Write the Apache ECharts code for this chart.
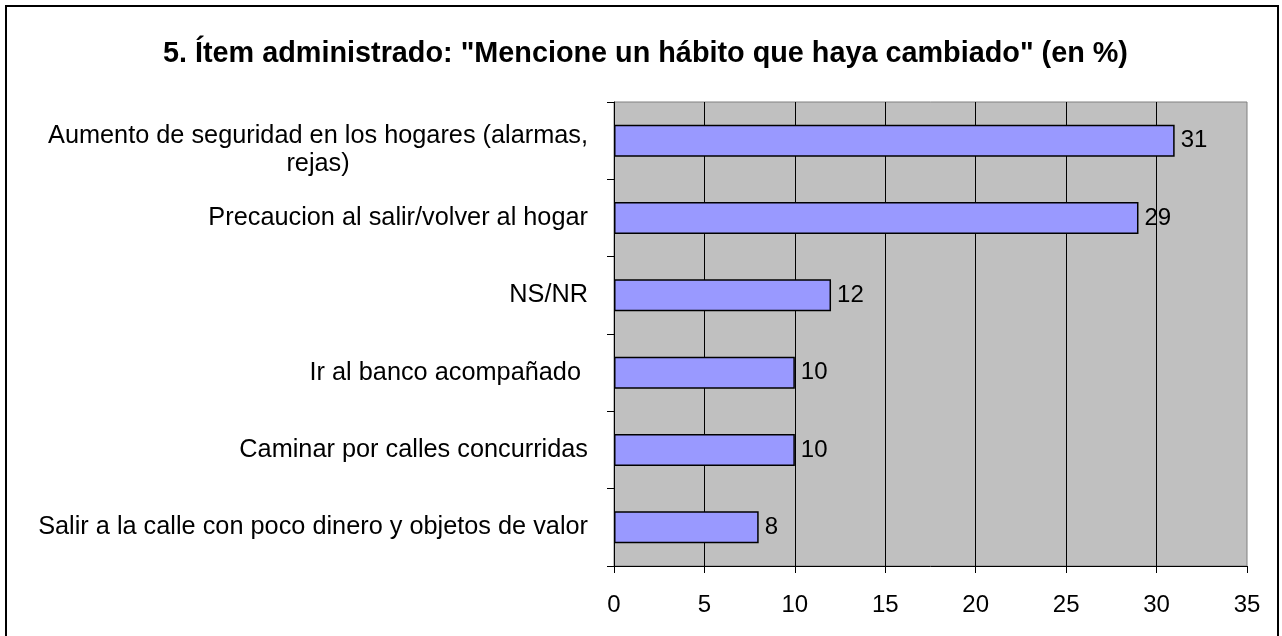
<!DOCTYPE html>
<html>
<head>
<meta charset="utf-8">
<title>Ítem administrado</title>
<script src="https://cdn.jsdelivr.net/npm/echarts@6/dist/echarts.min.js"></script>
<style>
  html, body { margin: 0; padding: 0; background: #fff; }
  #chart { width: 1282px; height: 636px; }
</style>
</head>
<body>
<div id="chart"></div>
<script>
var titleText = '5. Ítem administrado: "Mencione un hábito que haya cambiado" (en %)'
var categories = [
    'Aumento de seguridad en los hogares (alarmas,\nrejas)',
    'Precaucion al salir/volver al hogar',
    'NS/NR',
    'Ir al banco acompañado ',
    'Caminar por calles concurridas',
    'Salir a la calle con poco dinero y objetos de valor'
]
var values = [31, 29, 12, 10, 10, 8]
var xTicks = { min: 0, max: 35, step: 5 }

var fontFam = '"Liberation Sans", Arial, sans-serif'

var chart = echarts.init(document.getElementById('chart'))

// wrapped label sits a bit lower, as in the original
var yData = categories.map(function(c) {
    if (c.indexOf('\n') > -1) {
        return { value: c, textStyle: { padding: [18, 0, 0, 0] } }
    }
    return c
})

var options = {
    animation: false,
    backgroundColor: '#fff',
    title: {
        text: titleText,
        left: 158,
        top: 35,
        textStyle: {
            fontFamily: fontFam,
            fontSize: 28.8,
            fontWeight: 'bold',
            color: '#000'
        }
    },
    graphic: [{
        type: 'rect',
        shape: { x: 6, y: 6, width: 1272, height: 640 },
        style: { fill: 'none', stroke: '#000', lineWidth: 2 },
        silent: true
    }],
    grid: {
        left: 614,
        right: 35,
        top: 102,
        bottom: 70,
        outerBoundsMode: 'none',
        containLabel: false,
        show: true,
        backgroundColor: '#C0C0C0',
        borderColor: '#808080',
        borderWidth: 1
    },
    xAxis: {
        type: 'value',
        min: xTicks.min,
        max: xTicks.max,
        interval: xTicks.step,
        axisLine: {
            show: true,
            lineStyle: { color: '#000', width: 1 }
        },
        axisTick: {
            show: true,
            length: 7,
            lineStyle: { color: '#000' }
        },
        axisLabel: {
            margin: 27,
            fontFamily: fontFam,
            fontSize: 24,
            color: '#000'
        },
        splitLine: {
            show: true,
            showMinLine: false,
            showMaxLine: false,
            lineStyle: { color: '#000', width: 1 }
        }
    },
    yAxis: {
        type: 'category',
        inverse: true,
        data: yData,
        axisLine: {
            show: true,
            lineStyle: { color: '#000', width: 1 }
        },
        axisTick: {
            show: true,
            length: 7,
            lineStyle: { color: '#000' }
        },
        axisLabel: {
            margin: 26,
            fontFamily: fontFam,
            fontSize: 25.3,
            lineHeight: 28,
            color: '#000',
            formatter: function(value) {
                var lines = value.split('\n')
                if (lines.length > 1) {
                    return '{a|' + lines[0] + '}\n{b|' + lines[1] + '}'
                }
                return value
            },
            rich: {
                a: {
                    align: 'right',
                    fontFamily: fontFam,
                    fontSize: 25.3,
                    color: '#000',
                    lineHeight: 28
                },
                b: {
                    align: 'center',
                    fontFamily: fontFam,
                    fontSize: 25.3,
                    color: '#000',
                    lineHeight: 28
                }
            }
        },
        splitLine: { show: false }
    },
    series: [{
        type: 'bar',
        data: values,
        barWidth: 32,
        itemStyle: {
            color: '#9999FF',
            borderColor: '#000',
            borderWidth: 1.5
        },
        label: {
            show: true,
            position: 'right',
            distance: 6,
            fontFamily: fontFam,
            fontSize: 24,
            color: '#000'
        }
    }]
}

chart.setOption(options)
</script>
</body>
</html>
